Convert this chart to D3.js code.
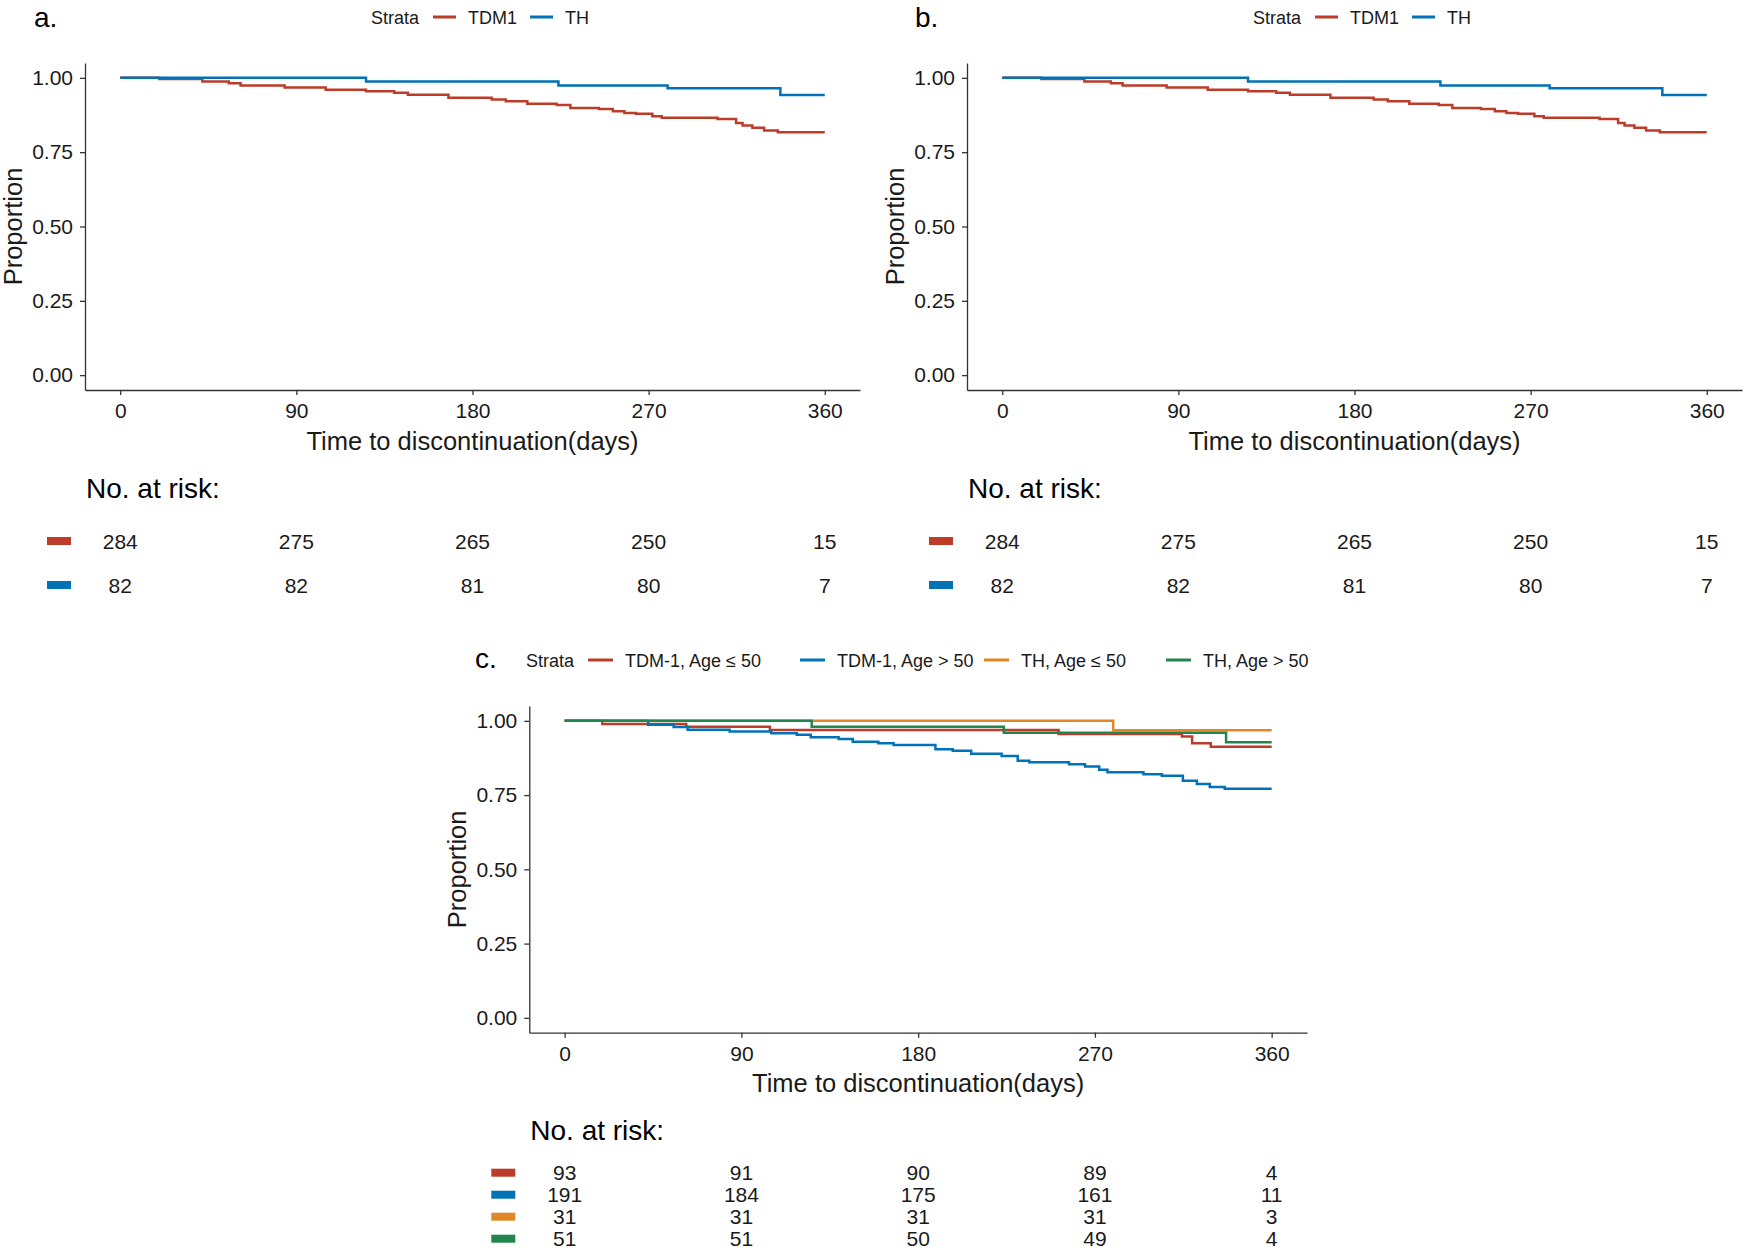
<!DOCTYPE html>
<html>
<head>
<meta charset="utf-8">
<script src="https://cdn.jsdelivr.net/npm/d3@7"></script>
<style>
  body { margin: 0; background: #fff; }
  text { font-family: "Liberation Sans", Arial, sans-serif; }
</style>
</head>
<body>
<div id="chart"></div>
<script>
// Axis ticks
const xTicks = [0, 90, 180, 270, 360];
const yTicks = [0, 0.25, 0.5, 0.75, 1];

// Panels a / b: two strata
const twoGroupNames = ['TDM1', 'TH'];
const tdm1Days = [20, 42, 55.5, 61.5, 84, 105, 125.6, 140, 147, 167.7, 189.8, 197, 208, 223, 230, 244.6, 251.7, 257.6, 263.5, 271.9, 276.7, 305.2, 314.7, 318, 323, 329, 336];
const tdm1Surv = [0.9965, 0.988, 0.982, 0.974, 0.968, 0.960, 0.955, 0.950, 0.943, 0.933, 0.927, 0.921, 0.913, 0.909, 0.899, 0.895, 0.888, 0.882, 0.879, 0.871, 0.866, 0.862, 0.848, 0.840, 0.832, 0.823, 0.817];
const thDays = [125.6, 223.9, 279.7, 337.3];
const thSurv = [0.988, 0.974, 0.965, 0.942];
const riskTDM1 = [284, 275, 265, 250, 15];
const riskTH = [82, 82, 81, 80, 7];

// Panel c: four strata
const fourGroupNames = ['TDM-1, Age \u2264 50', 'TDM-1, Age > 50', 'TH, Age \u2264 50', 'TH, Age > 50'];
const tdmYoungDays = [19.2, 61.9, 104.5, 251.5, 314.3, 319.5, 329];
const tdmYoungSurv = [0.989, 0.980, 0.969, 0.956, 0.947, 0.925, 0.913];
const tdmOldDays = [42.5, 55.5, 62.6, 84, 105.2, 118.2, 125.3, 139.5, 146.7, 159.7, 167.5, 188.8, 197.6, 207, 222.5, 230.7, 236.6, 256.8, 265, 272.2, 276.4, 294.7, 304.1, 314.8, 321.9, 328.5, 336.1];
const tdmOldSurv = [0.9865, 0.979, 0.970, 0.964, 0.9585, 0.953, 0.945, 0.939, 0.930, 0.925, 0.919, 0.9045, 0.899, 0.889, 0.882, 0.866, 0.861, 0.854, 0.846, 0.835, 0.827, 0.8205, 0.815, 0.798, 0.787, 0.777, 0.771];
const thYoungDays = [279.3];
const thYoungSurv = [0.968];
const thOldDays = [125.8, 223.6, 336.8];
const thOldSurv = [0.980, 0.960, 0.928];
const riskTdmYoung = [93, 91, 90, 89, 4];
const riskTdmOld = [191, 184, 175, 161, 11];
const riskThYoung = [31, 31, 31, 31, 3];
const riskThOld = [51, 51, 50, 49, 4];

// NEJM-style palette
const colors = ['#BC3C29', '#0072B5', '#E18727', '#20854E'];

const width = 1745;
const height = 1250;

const svg = d3.select('#chart')
  .append('svg')
  .attr('width', width)
  .attr('height', height)
  .attr('viewBox', [0, 0, width, height]);

const twoGroups = [
  { name: twoGroupNames[0], days: tdm1Days, surv: tdm1Surv, risk: riskTDM1 },
  { name: twoGroupNames[1], days: thDays, surv: thSurv, risk: riskTH }
];
const fourGroups = [
  { name: fourGroupNames[0], days: tdmYoungDays, surv: tdmYoungSurv, risk: riskTdmYoung },
  { name: fourGroupNames[1], days: tdmOldDays, surv: tdmOldSurv, risk: riskTdmOld },
  { name: fourGroupNames[2], days: thYoungDays, surv: thYoungSurv, risk: riskThYoung },
  { name: fourGroupNames[3], days: thOldDays, surv: thOldSurv, risk: riskThOld }
];

// layout of each panel (pixel boxes, legend key positions)
const panels = [
  { tag: 'a.', left: 85, right: 860, top: 63, bottom: 390, tagX: 34, tagY: 27,
    legendY: 17, legendTitleX: 371, keyX: [433, 530], keyLen: 23, groups: twoGroups },
  { tag: 'b.', left: 967, right: 1742, top: 63, bottom: 390, tagX: 915, tagY: 27,
    legendY: 17, legendTitleX: 1253, keyX: [1315, 1412], keyLen: 23, groups: twoGroups },
  { tag: 'c.', left: 529.3, right: 1307, top: 706, bottom: 1032.7, tagX: 475, tagY: 668,
    legendY: 660, legendTitleX: 526, keyX: [588, 800, 984, 1166], keyLen: 25, groups: fourGroups }
];

const axisColor = '#333';
const textColor = '#1a1a1a';

function drawPanel(p) {
  const g = svg.append('g');

  // ggplot-style 5% expansion on both axes
  const x = d3.scaleLinear().domain([-18, 378]).range([p.left, p.right]);
  const y = d3.scaleLinear().domain([-0.05, 1.05]).range([p.bottom, p.top]);

  // panel tag
  g.append('text')
    .attr('x', p.tagX)
    .attr('y', p.tagY)
    .attr('font-size', 28)
    .attr('fill', '#000')
    .text(p.tag);

  // legend
  g.append('text')
    .attr('x', p.legendTitleX)
    .attr('y', p.legendY + 6.5)
    .attr('font-size', 18)
    .attr('fill', textColor)
    .text('Strata');

  p.groups.forEach((grp, i) => {
    g.append('line')
      .attr('x1', p.keyX[i])
      .attr('x2', p.keyX[i] + p.keyLen)
      .attr('y1', p.legendY)
      .attr('y2', p.legendY)
      .attr('stroke', colors[i])
      .attr('stroke-width', 3);
    g.append('text')
      .attr('x', p.keyX[i] + p.keyLen + 12)
      .attr('y', p.legendY + 6.5)
      .attr('font-size', 18)
      .attr('fill', textColor)
      .text(grp.name);
  });

  // axes
  const xAxis = g.append('g')
    .attr('transform', `translate(0,${p.bottom})`)
    .call(d3.axisBottom(x).tickValues(xTicks).tickSize(5).tickSizeOuter(0).tickPadding(8));
  const yAxis = g.append('g')
    .attr('transform', `translate(${p.left},0)`)
    .call(d3.axisLeft(y).tickValues(yTicks).tickFormat(d3.format('.2f')).tickSize(5).tickSizeOuter(0).tickPadding(7));

  [xAxis, yAxis].forEach(a => {
    a.select('.domain').attr('stroke', axisColor).attr('stroke-width', 1.3);
    a.selectAll('.tick line').attr('stroke', axisColor).attr('stroke-width', 1.3);
    a.selectAll('.tick text')
      .attr('fill', textColor)
      .attr('font-size', 21)
      .attr('font-family', '"Liberation Sans", Arial, sans-serif');
  });

  // axis titles
  g.append('text')
    .attr('x', (p.left + p.right) / 2)
    .attr('y', p.bottom + 59.5)
    .attr('text-anchor', 'middle')
    .attr('font-size', 25.5)
    .attr('fill', textColor)
    .text('Time to discontinuation(days)');

  g.append('text')
    .attr('transform', `translate(${p.left - 63.5},${(p.top + p.bottom) / 2}) rotate(-90)`)
    .attr('text-anchor', 'middle')
    .attr('font-size', 25.5)
    .attr('fill', textColor)
    .text('Proportion');

  // survival step curves
  const line = d3.line()
    .x(d => x(d[0]))
    .y(d => y(d[1]))
    .curve(d3.curveStepAfter);

  p.groups.forEach((grp, i) => {
    const pts = [[0, 1]];
    grp.days.forEach((t, k) => pts.push([t, grp.surv[k]]));
    pts.push([360, grp.surv[grp.surv.length - 1]]);
    g.append('path')
      .datum(pts)
      .attr('d', line)
      .attr('fill', 'none')
      .attr('stroke', colors[i])
      .attr('stroke-width', 2.5);
  });

  // risk table
  g.append('text')
    .attr('x', p.left + 1)
    .attr('y', p.bottom + 107.5)
    .attr('font-size', 28)
    .attr('fill', '#000')
    .text('No. at risk:');

  const row = d3.scaleBand()
    .domain(p.groups.map((d, i) => i))
    .range([p.bottom + 129, p.bottom + 217]);

  p.groups.forEach((grp, i) => {
    const cy = row(i) + row.bandwidth() / 2;
    g.append('rect')
      .attr('x', p.left - 38)
      .attr('y', cy - 4)
      .attr('width', 24)
      .attr('height', 8)
      .attr('fill', colors[i]);
    g.selectAll(null)
      .data(grp.risk)
      .join('text')
      .attr('x', (d, k) => x(xTicks[k]))
      .attr('y', cy)
      .attr('dy', '0.36em')
      .attr('text-anchor', 'middle')
      .attr('font-size', 21)
      .attr('fill', textColor)
      .text(d => d);
  });
}

panels.forEach(drawPanel);
</script>
</body>
</html>
